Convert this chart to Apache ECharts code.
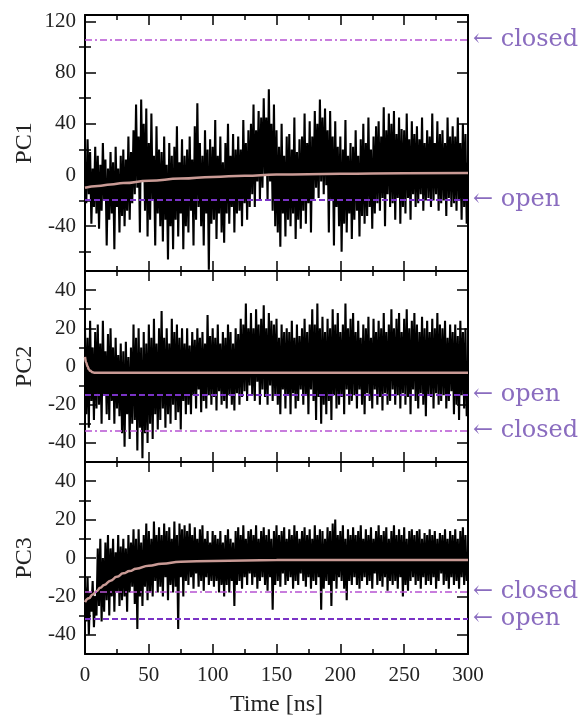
<!DOCTYPE html>
<html>
<head>
<meta charset="utf-8">
<script src="https://cdn.jsdelivr.net/npm/echarts@6.0.0/dist/echarts.min.js"></script>
<style>
  html, body { margin: 0; padding: 0; background: #fff; }
  #chart { width: 588px; height: 717px; }
</style>
</head>
<body>
<div id="chart"></div>
<script>
// one sample per ns, t = 0..300
var pc1 = [
  10,-22,28,-15,18,-38,5,-25,22,-30,
  15,-42,8,-28,25,-20,12,-55,5,-35,
  18,-30,10,-58,22,-25,5,-45,15,-32,
  20,-40,12,-28,30,-35,18,-22,35,-15,
  55,-10,30,-45,59,-5,40,-28,52,-48,
  25,-35,48,-20,15,-55,38,-30,20,-40,
  18,-52,30,-35,8,-66,25,-40,15,-58,
  22,-35,38,-48,10,-30,28,-58,15,-40,
  20,-45,30,-28,12,-55,38,-35,56,-25,
  25,-40,15,-55,35,-30,20,-74,28,-38,
  22,-35,43,-50,15,-30,30,-45,10,-53,
  25,-30,40,-38,15,-25,32,-45,20,-30,
  30,-28,20,-40,43,-22,25,-35,35,-25,
  40,-15,55,-25,35,-5,50,-20,45,-10,
  60,0,45,-20,67,-5,40,-28,55,-40,
  35,-45,22,-56,40,-30,15,-48,30,-35,
  32,-40,20,-30,45,-50,18,-35,28,-42,
  30,-28,48,-38,25,-22,42,-45,30,-20,
  50,-10,40,-18,59,-5,45,-15,52,-8,
  35,-45,50,-20,30,-55,42,-25,22,-40,
  30,-60,20,-38,43,-45,15,-30,25,-50,
  22,-35,35,-28,15,-48,28,-32,40,-38,
  25,-32,45,-25,20,-42,30,-30,38,-22,
  42,-28,30,-18,53,-40,35,-15,48,-25,
  40,-22,50,-35,32,-18,45,-38,36,-25,
  35,-30,48,-18,28,-35,42,-15,32,-25,
  38,-22,28,-15,45,-28,25,-20,35,-18,
  30,-25,48,-20,25,-15,42,-28,32,-22,
  35,-20,25,-32,45,-18,30,-25,38,-22,
  30,-28,45,-20,25,-35,40,-25,32,-38,
  10
];
var pc2 = [
  20,-25,15,-32,24,-18,10,-28,18,-22,
  22,-20,12,-30,24,-15,8,-25,17,-28,
  20,-18,10,-30,15,-22,6,-26,12,-35,
  8,-42,13,-25,5,-38,10,-30,22,-28,
  15,-44,20,-32,10,-48,18,-35,12,-40,
  22,-30,15,-38,25,-25,12,-33,20,-28,
  29,-22,15,-32,20,-25,12,-30,25,-20,
  18,-28,22,-24,15,-33,20,-18,12,-25,
  20,-20,11,-25,18,-15,14,-22,20,-12,
  15,-24,18,-18,12,-22,27,-15,16,-20,
  20,-16,15,-23,22,-13,12,-20,18,-18,
  15,-22,22,-15,18,-20,12,-23,20,-14,
  17,-20,25,-16,22,-13,33,-18,20,-10,
  28,-15,20,-18,30,-8,22,-20,25,-12,
  32,-16,20,-20,28,-10,24,-18,22,-15,
  25,-20,15,-25,22,-12,18,-22,20,-15,
  18,-25,24,-14,15,-22,22,-18,16,-12,
  20,-20,25,-15,18,-25,22,-12,30,-18,
  22,-28,33,-16,20,-30,26,-20,18,-25,
  25,-18,20,-28,30,-15,22,-22,28,-20,
  18,-16,22,-25,33,-12,20,-20,25,-18,
  28,-15,18,-22,24,-12,15,-20,22,-25,
  20,-14,26,-18,15,-22,25,-12,18,-20,
  24,-16,20,-23,28,-14,18,-20,22,-18,
  30,-12,20,-20,25,-15,28,-22,18,-14,
  25,-20,30,-16,20,-25,24,-12,28,-18,
  22,-22,18,-14,26,-20,20,-26,24,-15,
  18,-16,25,-22,20,-14,28,-20,22,-18,
  20,-15,24,-22,15,-18,22,-13,18,-25,
  22,-20,16,-28,24,-15,18,-22,20,-26,
  -10
];
var pc3 = [
  -15,-33,-10,-40,-18,-28,-12,-36,-20,-30,
  5,-25,10,-33,0,-28,8,-22,12,-30,
  5,-20,10,-28,3,-18,12,-25,6,-22,
  10,-20,5,-28,12,-18,8,-15,15,-24,
  10,-37,15,-20,8,-25,12,-15,18,-22,
  14,-18,10,-20,19,-12,12,-18,16,-15,
  12,-20,18,-10,14,-22,16,-14,10,-18,
  19,-15,12,-37,18,-10,15,-20,17,-12,
  14,-14,18,-10,12,-16,16,-8,10,-15,
  15,-12,17,-17,10,-10,14,-14,8,-12,
  14,-15,12,-12,10,-18,14,-14,8,-20,
  12,-14,15,-18,10,-12,8,-25,14,-14,
  16,-12,12,-16,17,-10,10,-14,14,-8,
  15,-14,12,-10,17,-16,10,-12,14,-10,
  16,-14,12,-17,15,-10,10,-27,14,-14,
  17,-12,12,-15,14,-8,16,-14,10,-12,
  15,-10,12,-16,17,-12,14,-14,10,-8,
  14,-12,16,-15,12,-10,15,-16,10,-12,
  17,-14,12,-10,15,-27,14,-16,10,-12,
  16,-14,14,-25,18,-12,20,-16,12,-10,
  14,-12,17,-16,10,-22,15,-12,12,-14,
  16,-10,12,-14,14,-16,17,-12,10,-10,
  15,-14,12,-12,16,-16,10,-8,14,-14,
  17,-12,12,-15,14,-10,16,-17,10,-12,
  14,-14,17,-12,12,-16,15,-10,12,-20,
  16,-14,10,-17,14,-12,15,-10,12,-14,
  14,-12,15,-16,10,-10,13,-14,12,-12,
  15,-14,12,-10,14,-16,10,-12,13,-8,
  12,-14,15,-12,10,-16,14,-10,12,-14,
  15,-12,10,-16,14,-10,16,-14,12,-12,
  0
];

// fitted curves
var fit1T = [0, 10, 20, 30, 50, 75, 100, 125, 150, 200, 250, 300];
var fit1V = [-10, -8.6, -7.4, -6.3, -4.5, -2.8, -1.5, -0.5, 0.3, 1.0, 1.4, 1.6];
var fit2T = [0, 1, 2, 3, 4, 6, 8, 300];
var fit2V = [5, 2, 0, -1.4, -2.2, -3, -3.3, -3.3];
var fit3T = [0, 3, 6, 9, 12, 15, 20, 25, 30, 35, 40, 50, 60, 75, 100, 150, 200, 300];
var fit3V = [-23, -21, -19, -17.3, -15.5, -14, -11.8, -9.8, -8, -6.8, -5.6, -4, -3, -2, -1.5, -1.1, -1, -1];

// reference structures
var closedVals = [106, -33.5, -17.5];
var openVals = [-19, -15, -31.5];

var panelNames = ['PC1', 'PC2', 'PC3'];
var yMins = [-75, -50, -50];
var yMaxs = [125, 50, 50];
var yMajor = [[-40, 0, 40, 80, 120], [-40, -20, 0, 20, 40], [-40, -20, 0, 20, 40]];
var yMinor = [[-60, -20, 20, 60, 100], [-30, -10, 10, 30], [-30, -10, 10, 30]];

var serif = 'Liberation Serif';
var purpleText = '#8a6cbf';
var closedColor = '#b653d2';
var openColor = '#7a33c6';

var grids = [
  { left: 85, top: 15, width: 383, height: 256, outerBoundsMode: 'none' },
  { left: 85, top: 271, width: 383, height: 191, outerBoundsMode: 'none' },
  { left: 85, top: 462, width: 383, height: 192, outerBoundsMode: 'none' }
];

var xAxes = [];
var yAxes = [];
var series = [];

function pairs(ts, vs) {
  return vs.map(function (v, i) { return [ts[i], v]; });
}

for (var g = 0; g < 3; g++) {
  ['bottom', 'top'].forEach(function (pos) {
    xAxes.push({
      gridIndex: g, type: 'value', min: 0, max: 300, interval: 50, position: pos,
      axisLine: { onZero: false, lineStyle: { color: '#000', width: 2 } },
      axisTick: { inside: true, length: 10, lineStyle: { color: '#000', width: 1.5 } },
      minorTick: { show: true, splitNumber: 2, length: 5, lineStyle: { color: '#000', width: 1.5 } },
      splitLine: { show: false },
      axisLabel: {
        show: g === 2 && pos === 'bottom', margin: 11,
        fontFamily: serif, fontSize: 21, color: '#222'
      },
      name: (g === 2 && pos === 'bottom') ? 'Time [ns]' : '',
      nameLocation: 'middle', nameGap: 39, nameMoveOverlap: false,
      nameTextStyle: { fontFamily: serif, fontSize: 24, color: '#222' }
    });
  });

  ['left', 'right'].forEach(function (pos) {
    yAxes.push({
      gridIndex: g, type: 'value', min: yMins[g], max: yMaxs[g], position: pos,
      axisLine: { onZero: false, lineStyle: { color: '#000', width: 2 } },
      axisTick: { inside: true, length: 11, customValues: yMajor[g], lineStyle: { color: '#000', width: 1.5 } },
      axisLabel: {
        show: pos === 'left', customValues: yMajor[g], margin: 9,
        fontFamily: serif, fontSize: 21, color: '#222'
      },
      splitLine: { show: false }
    });
    // minor ticks; the left one also carries the panel name
    yAxes.push({
      gridIndex: g, type: 'value', min: yMins[g], max: yMaxs[g], position: pos,
      axisLine: { show: false },
      axisTick: { inside: true, length: 6, customValues: yMinor[g], lineStyle: { color: '#000', width: 1.5 } },
      axisLabel: { show: false },
      splitLine: { show: false },
      name: pos === 'left' ? panelNames[g] : '',
      nameLocation: 'middle', nameGap: 48, nameMoveOverlap: false,
      nameTextStyle: { fontFamily: serif, fontSize: 24, color: '#222' }
    });
  });
}

var raw = [pc1, pc2, pc3];
var fits = [pairs(fit1T, fit1V), pairs(fit2T, fit2V), pairs(fit3T, fit3V)];

for (var p = 0; p < 3; p++) {
  series.push({
    type: 'line', xAxisIndex: p * 2, yAxisIndex: p * 4,
    data: raw[p].map(function (v, i) { return [i, v]; }),
    symbol: 'none', sampling: 'none',
    lineStyle: { color: '#000', width: 2.1 },
    z: 2, silent: true
  });
  series.push({
    type: 'line', xAxisIndex: p * 2, yAxisIndex: p * 4,
    data: fits[p], smooth: true, smoothMonotone: 'x',
    symbol: 'none',
    lineStyle: { color: '#c99a95', width: 2.5 },
    z: 4, silent: true,
    markLine: {
      silent: true, symbol: ['none', 'none'], animation: false,
      data: [
        {
          yAxis: closedVals[p],
          lineStyle: { color: closedColor, width: 1.5, type: [7, 3, 2, 3] },
          label: { show: true, position: 'end', distance: 5, formatter: '\u2190 closed',
                   color: purpleText, fontFamily: 'DejaVu Serif', fontSize: 24 }
        },
        {
          yAxis: openVals[p],
          lineStyle: { color: openColor, width: 2, type: [6, 3] },
          label: { show: true, position: 'end', distance: 5, formatter: '\u2190 open',
                   color: purpleText, fontFamily: 'DejaVu Serif', fontSize: 24 }
        }
      ]
    }
  });
}

var chart = echarts.init(document.getElementById('chart'), null, { renderer: 'canvas' });
chart.setOption({
  backgroundColor: '#fff',
  animation: false,
  grid: grids,
  xAxis: xAxes,
  yAxis: yAxes,
  series: series
});
</script>
</body>
</html>
